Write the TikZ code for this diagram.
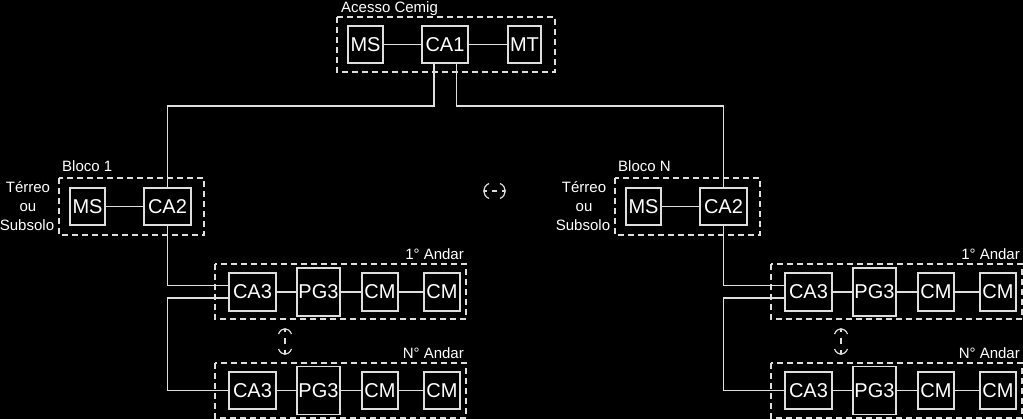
\documentclass[tikz,border=0pt]{standalone}
\usepackage{fontspec}
\setmainfont{Liberation Sans}
\definecolor{linec}{RGB}{222,222,222}
\begin{document}
\begin{tikzpicture}[x=1pt,y=-1pt,
  box/.style={draw=linec, line width=1.3pt, inner sep=0pt, text=white,
    font=\fontsize{20pt}{23pt}\selectfont, minimum height=37pt},
  conn/.style={draw=linec, line width=1.3pt},
  grp/.style={draw=linec, line width=1.3pt, dash pattern=on 6pt off 4pt},
  lbl/.style={text=white, inner sep=0pt, font=\fontsize{15pt}{18pt}\selectfont},
  hcont/.pic={
    \draw[conn, line width=1.2pt] (-5.5,-7.5) .. controls (-12.5,-4.5) and (-12.5,4.5) .. (-5.5,7.5);
    \draw[conn, line width=1.2pt] (-10.8,0) -- (-7.5,0);
    \draw[conn, line width=1.2pt] (-2.5,0) -- (2.5,0);
    \draw[conn, line width=1.2pt] (5.5,-7.5) .. controls (12.5,-4.5) and (12.5,4.5) .. (5.5,7.5);
    \draw[conn, line width=1.2pt] (10.8,0) -- (7.5,0);
  },
  vcont/.pic={
    \draw[conn, line width=1.2pt] (-6.5,-7.5) .. controls (-3.5,-14.5) and (3.5,-14.5) .. (6.5,-7.5);
    \draw[conn, line width=1.2pt] (0,-12.8) -- (0,-9);
    \draw[conn, line width=1.2pt] (0,-3) -- (0,3);
    \draw[conn, line width=1.2pt] (-6.5,7.5) .. controls (-3.5,14.5) and (3.5,14.5) .. (6.5,7.5);
    \draw[conn, line width=1.2pt] (0,12.8) -- (0,9);
  }]
\useasboundingbox (0,0) rectangle (1023,419);
\fill[black] (0,0) rectangle (1023,419);

% Acesso Cemig
\draw[grp] (337,17) rectangle (555,72);
\node[lbl, anchor=base west] (lacesso) at (341,13) {Acesso Cemig};
\node[box, minimum width=35pt] (ms0) at (365.5,44.5) {MS};
\node[box, minimum width=46pt] (ca1) at (445,44.5) {CA1};
\node[box, minimum width=33pt] (mt) at (524.5,44.5) {MT};
\draw[conn] (ms0.east) -- (ca1.west);
\draw[conn] (ca1.east) -- (mt.west);
\coordinate (yjoin) at (0,106);

\pic at (494.5,191) {hcont};

\foreach \s/\dx/\bl in {L/0/1, R/556/N}{
  \begin{scope}[xshift=\dx pt]
    % Bloco
    \draw[grp] (59,178) rectangle (204,235);
    \node[lbl, anchor=base west] (lb\s) at (62,172) {Bloco \bl};
    \node[lbl, anchor=base] (t1\s) at (28,193) {Térreo};
    \node[lbl, anchor=base] (t2\s) at (28,212) {ou};
    \node[lbl, anchor=base] (t3\s) at (27,231) {Subsolo};
    \node[box, minimum width=35pt] (ms\s) at (87.5,206.5) {MS};
    \node[box, minimum width=47pt] (ca2\s) at (167.5,206.5) {CA2};
    \draw[conn] (ms\s.east) -- (ca2\s.west);
    % 1o andar
    \draw[grp] (215,264) rectangle (466,319);
    \node[lbl, anchor=base east] (la\s) at (464,260) {1° Andar};
    \node[box, minimum width=47pt, minimum height=38pt] (ca3a\s) at (252.5,292) {CA3};
    \node[box, minimum width=43pt, minimum height=48pt] (pg3a\s) at (318.5,292) {PG3};
    \node[box, minimum width=36pt, minimum height=38pt] (cma\s) at (380,292) {CM};
    \node[box, minimum width=36pt, minimum height=38pt] (cmb\s) at (442,292) {CM};
    \draw[conn] (ca3a\s.east) -- (pg3a\s.west);
    \draw[conn] (pg3a\s.east) -- (cma\s.west);
    \draw[conn] (cma\s.east) -- (cmb\s.west);
    % N andar
    \draw[grp] (215,363) rectangle (466,418);
    \node[lbl, anchor=base east] (lb2\s) at (464,359) {N° Andar};
    \node[box, minimum width=47pt] (ca3b\s) at (252.5,390.5) {CA3};
    \node[box, minimum width=43pt, minimum height=48pt] (pg3b\s) at (318.5,390.5) {PG3};
    \node[box, minimum width=36pt] (cmc\s) at (380,390.5) {CM};
    \node[box, minimum width=36pt] (cmd\s) at (442,390.5) {CM};
    \draw[conn] (ca3b\s.east) -- (pg3b\s.west);
    \draw[conn] (pg3b\s.east) -- (cmc\s.west);
    \draw[conn] (cmc\s.east) -- (cmd\s.west);
    % links
    \coordinate (hi\s) at ([yshift=6.5pt]ca3a\s.west);
    \coordinate (lo\s) at ([yshift=-6pt]ca3a\s.west);
    \draw[conn] (ca2\s.south) |- (hi\s);
    \draw[conn] (lo\s) -- (lo\s -| ca2\s.south) |- (ca3b\s.west);
    \pic at (285,341.5) {vcont};
  \end{scope}
}
\coordinate (c1l) at ([xshift=-11pt]ca1.south);
\coordinate (c1r) at ([xshift=11.5pt]ca1.south);
\draw[conn] (c1l) |- (yjoin -| ca2L.north) -- (ca2L.north);
\draw[conn] (c1r) |- (yjoin -| ca2R.north) -- (ca2R.north);
\end{tikzpicture}
\end{document}
